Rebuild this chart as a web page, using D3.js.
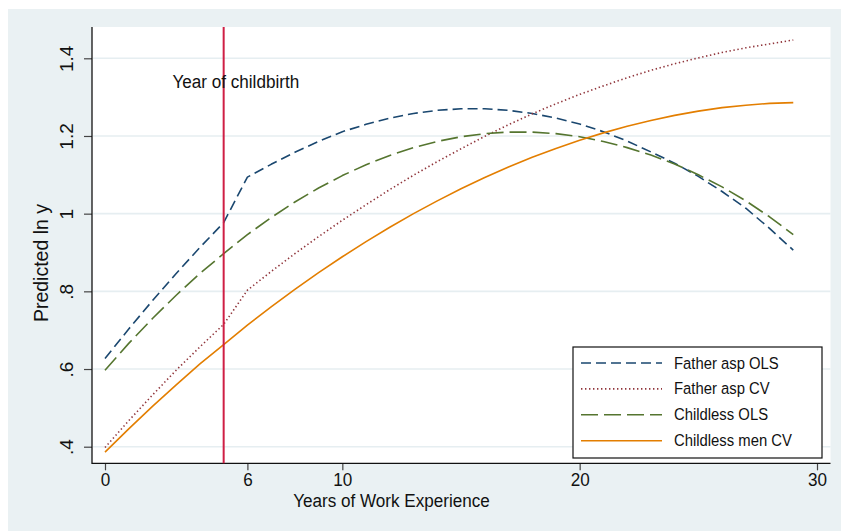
<!DOCTYPE html>
<html>
<head>
<meta charset="utf-8">
<script src="https://cdn.jsdelivr.net/npm/d3@7"></script>
<style>
  html, body { margin: 0; padding: 0; background: #ffffff; }
  svg { display: block; }
  text { font-family: "Liberation Sans", Arial, sans-serif; fill: #111; }
</style>
</head>
<body>
<svg id="chart" width="841" height="531"></svg>
<script>
// Years of work experience
const years = [0,1,2,3,4,5,6,7,8,9,10,11,12,13,14,15,16,17,18,19,20,21,22,23,24,25,26,27,28,29];

// Predicted ln y for each group
const fatherOLS = [0.627,0.703,0.776,0.846,0.913,0.977,1.094,1.127,1.158,1.186,1.211,1.230,1.246,1.258,1.266,1.270,1.270,1.266,1.258,1.246,1.231,1.211,1.187,1.159,1.130,1.096,1.057,1.014,0.962,0.906];
const fatherCV = [0.398,0.467,0.533,0.597,0.657,0.715,0.803,0.851,0.897,0.941,0.983,1.023,1.062,1.099,1.134,1.167,1.199,1.229,1.257,1.283,1.307,1.329,1.350,1.369,1.386,1.401,1.415,1.427,1.437,1.447];
const childlessOLS = [0.597,0.666,0.730,0.790,0.846,0.897,0.946,0.990,1.030,1.066,1.098,1.126,1.150,1.170,1.186,1.198,1.206,1.210,1.210,1.206,1.198,1.186,1.170,1.151,1.128,1.100,1.069,1.033,0.992,0.946];
const childlessCV = [0.386,0.446,0.504,0.559,0.613,0.663,0.713,0.760,0.805,0.848,0.889,0.928,0.965,1.000,1.033,1.064,1.093,1.120,1.145,1.168,1.189,1.208,1.225,1.240,1.253,1.264,1.273,1.279,1.284,1.286];

const seriesNames = ["Father asp OLS", "Father asp CV", "Childless OLS", "Childless men CV"];
const seriesColors = ["#1a476f", "#90353b", "#55752f", "#e37e00"];
const seriesDashes = ["10,5", "1.4,2.6", "17,6", null];

const xTicks = [0, 6, 10, 20, 30];
const yTicks = [0.4, 0.6, 0.8, 1.0, 1.2, 1.4];
const yTickLabels = [".4", ".6", ".8", "1", "1.2", "1.4"];

const childbirthYear = 5;
const childbirthLabel = "Year of childbirth";
const xTitle = "Years of Work Experience";
const yTitle = "Predicted ln y";

const series = [fatherOLS, fatherCV, childlessOLS, childlessCV];

const svg = d3.select("#chart");
const squeeze = 0.9; // narrow horizontal lettering

// outer panel
svg.append("rect").attr("x", 8).attr("y", 9).attr("width", 833).attr("height", 522).attr("fill", "#eaf1f3");

// plot region
const plot = { left: 92, right: 830.5, top: 27, bottom: 463.3 };
svg.append("rect")
  .attr("x", plot.left).attr("y", plot.top)
  .attr("width", plot.right - plot.left).attr("height", plot.bottom - plot.top)
  .attr("fill", "#ffffff");

const x = d3.scaleLinear().domain([0, 30]).range([105, 817]);
const y = d3.scaleLinear().domain([0.4, 1.4]).range([446.7, 58.3]);

// horizontal grid
svg.append("g").selectAll("line").data(yTicks).join("line")
  .attr("x1", plot.left + 1).attr("x2", plot.right)
  .attr("y1", d => y(d)).attr("y2", d => y(d))
  .attr("stroke", "#e6eef1").attr("stroke-width", 1.6);

// y axis
const yAxis = d3.axisLeft(y).tickValues(yTicks).tickSize(8).tickFormat("");
const gy = svg.append("g").attr("transform", `translate(${plot.left},0)`).call(yAxis);
gy.select(".domain").remove();
gy.selectAll(".tick line").attr("stroke", "#444").attr("stroke-width", 1.2);
gy.selectAll(".tick").append("text")
  .attr("transform", "translate(-19,0) rotate(-90)")
  .attr("text-anchor", "middle")
  .attr("font-size", 19)
  .style("fill", "#111")
  .text((d, i) => yTickLabels[i]);

// x axis
const xAxis = d3.axisBottom(x).tickValues(xTicks).tickSize(7).tickFormat("");
const gx = svg.append("g").attr("transform", `translate(0,${plot.bottom})`).call(xAxis);
gx.select(".domain").remove();
gx.selectAll(".tick line").attr("stroke", "#444").attr("stroke-width", 1.2);
gx.selectAll(".tick").append("text")
  .attr("transform", `translate(0,22.5) scale(${squeeze},1)`)
  .attr("text-anchor", "middle")
  .attr("font-size", 19)
  .style("fill", "#111")
  .text(d => d);

// axis lines
svg.append("line").attr("x1", plot.left).attr("x2", plot.left)
  .attr("y1", plot.top).attr("y2", plot.bottom + 0.6)
  .attr("stroke", "#111").attr("stroke-width", 1.3);
svg.append("line").attr("x1", plot.left).attr("x2", plot.right)
  .attr("y1", plot.bottom).attr("y2", plot.bottom)
  .attr("stroke", "#111").attr("stroke-width", 1.3);

// series lines
const line = d3.line().x((d, i) => x(years[i])).y(d => y(d));
series.forEach((vals, k) => {
  svg.append("path")
    .datum(vals)
    .attr("d", line)
    .attr("fill", "none")
    .attr("stroke", seriesColors[k])
    .attr("stroke-width", 1.6)
    .attr("stroke-dasharray", seriesDashes[k])
    .attr("stroke-linejoin", "round");
});

// year of childbirth marker
svg.append("line")
  .attr("x1", x(childbirthYear)).attr("x2", x(childbirthYear))
  .attr("y1", plot.top).attr("y2", plot.bottom)
  .attr("stroke", "#cf1f45").attr("stroke-width", 2);

svg.append("text")
  .attr("transform", `translate(172.5,88) scale(${squeeze},1)`)
  .attr("font-size", 19)
  .text(childbirthLabel);

// axis titles
svg.append("text")
  .attr("transform", `translate(391.5,507) scale(${squeeze},1)`)
  .attr("text-anchor", "middle")
  .attr("font-size", 19)
  .text(xTitle);

svg.append("text")
  .attr("transform", "translate(48,263) rotate(-90)")
  .attr("text-anchor", "middle")
  .attr("font-size", 19.5)
  .text(yTitle);

// legend
const legend = svg.append("g");
legend.append("rect")
  .attr("x", 573).attr("y", 347).attr("width", 249).attr("height", 111)
  .attr("fill", "#ffffff").attr("stroke", "#111").attr("stroke-width", 1.2);
seriesNames.forEach((name, k) => {
  const base = 368.5 + k * 25.9;
  legend.append("line")
    .attr("x1", 581).attr("x2", 662)
    .attr("y1", base - 5.5).attr("y2", base - 5.5)
    .attr("stroke", seriesColors[k]).attr("stroke-width", 1.6)
    .attr("stroke-dasharray", seriesDashes[k]);
  legend.append("text")
    .attr("transform", `translate(674,${base}) scale(${squeeze},1)`)
    .attr("font-size", 16.5)
    .text(name);
});
</script>
</body>
</html>
